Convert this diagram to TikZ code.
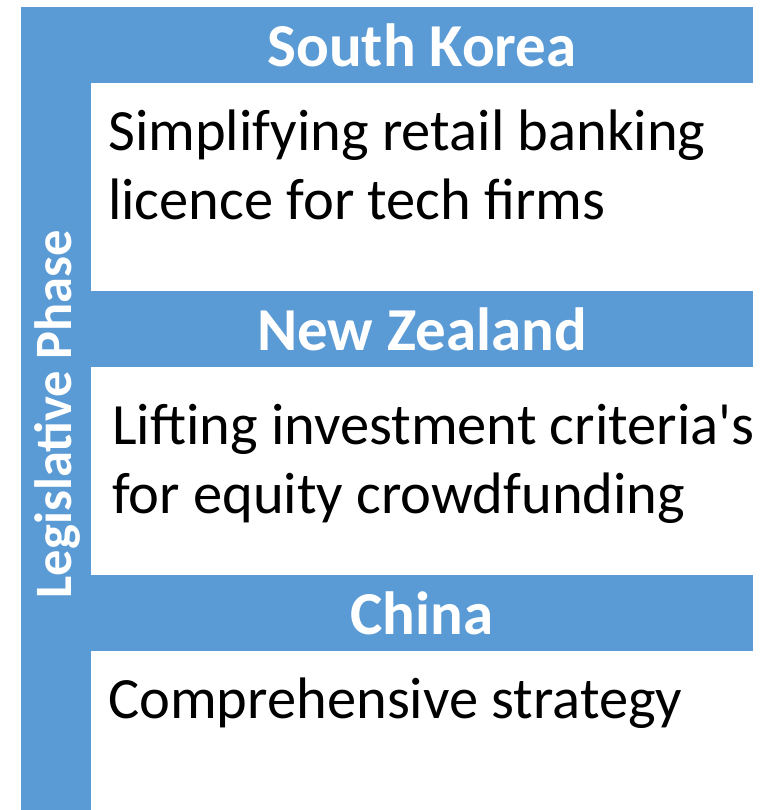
\documentclass[tikz,border=0pt]{standalone}
\usepackage{fontspec}
\setmainfont{Carlito}
\definecolor{barblue}{RGB}{91,155,213}
\begin{document}
\begin{tikzpicture}[x=1pt, y=-1pt,
    bar/.style = {fill=barblue, text=white, font=\fontsize{61}{70}\selectfont\bfseries, inner sep=0pt},
    head/.style = {bar, minimum width=662pt, minimum height=76pt},
    body/.style = {anchor=base west, align=left, inner sep=0pt, font=\fontsize{58.5}{69}\selectfont}]
    \useasboundingbox (0,0) rectangle (762,810);
    \node[bar, minimum width=70pt, minimum height=803pt] (side) at (56,408.5) {};
    \node[rotate=90, inner sep=0pt, text=white, font=\fontsize{52.5}{60}\selectfont\bfseries] (phase) at (57,414) {Legislative Phase};
    \node[head] (1) at (422,45) {South Korea};
    \node[head] (2) at (422,329) {New Zealand};
    \node[head] (3) at (422,613) {China};
    \node[body] (a) at (108,220) {Simplifying retail banking\\licence for tech firms};
    \node[body] (b) at (112,513) {Lifting investment criteria\textquotesingle s\\for equity crowdfunding};
    \node[body] (c) at (108,718) {Comprehensive strategy};
\end{tikzpicture}
\end{document}
